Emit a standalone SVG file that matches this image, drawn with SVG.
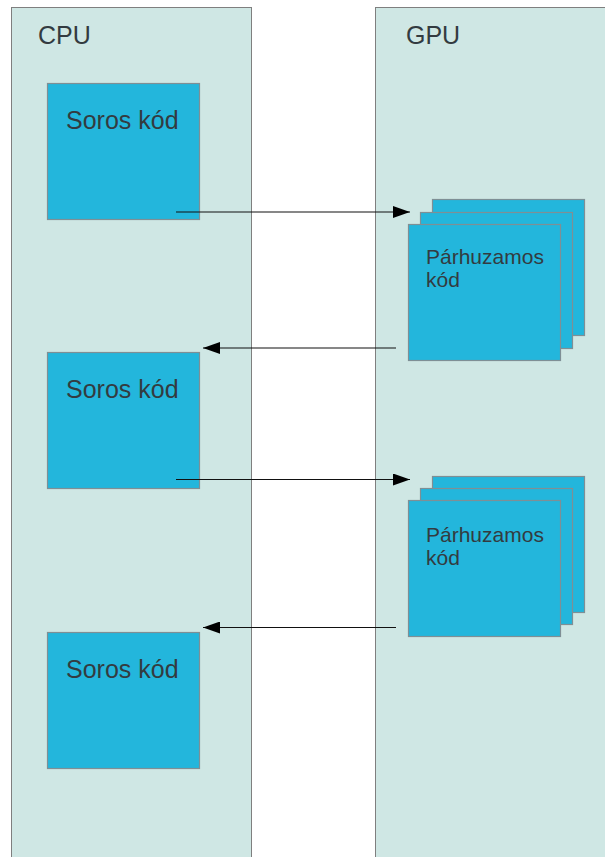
<svg xmlns="http://www.w3.org/2000/svg" width="605" height="857" viewBox="0 0 605 857">
<defs>
<style>
.lane{fill:#cfe7e4;stroke:#7f7f7f;stroke-width:1}
.box{fill:#23b6dc;stroke:#7f8f95;stroke-width:1.2}
.t{font-family:"Liberation Sans",Arial,sans-serif;fill:#333b40}
.big{font-size:25px}
.small{font-size:21px}
.conn{stroke:#111;stroke-width:1.2;fill:none;marker-end:url(#ah)}
</style>
<marker id="ah" viewBox="0 0 17 12" refX="17" refY="6" markerWidth="17" markerHeight="12" markerUnits="userSpaceOnUse" orient="auto">
<path d="M0,0 L17,6 L0,12 z" fill="#000"/>
</marker>
</defs>
<rect width="605" height="857" fill="#fff"/>
<g id="lane-cpu">
<rect class="lane" x="11.5" y="7.5" width="240" height="860"/>
<text class="t big" x="38" y="44">CPU</text>
</g>
<g id="lane-gpu">
<rect class="lane" x="375.5" y="7.5" width="240" height="860"/>
<text class="t big" x="406" y="44">GPU</text>
</g>
<g id="serial-1">
<rect class="box" x="47.5" y="83.5" width="152" height="136"/>
<text class="t big" x="66" y="129">Soros kód</text>
</g>
<g id="serial-2">
<rect class="box" x="47.5" y="352.5" width="152" height="136"/>
<text class="t big" x="66" y="398">Soros kód</text>
</g>
<g id="serial-3">
<rect class="box" x="47.5" y="632.5" width="152" height="136"/>
<text class="t big" x="66" y="678">Soros kód</text>
</g>
<g id="parallel-1">
<rect class="box" x="432.5" y="199.5" width="152" height="136"/>
<rect class="box" x="420.5" y="212.5" width="152" height="136"/>
<rect class="box" x="408.5" y="224.5" width="152" height="136"/>
<text class="t small" x="426" y="264">Párhuzamos</text>
<text class="t small" x="426" y="287">kód</text>
</g>
<g id="parallel-2">
<rect class="box" x="432.5" y="476.5" width="152" height="136"/>
<rect class="box" x="420.5" y="488.5" width="152" height="136"/>
<rect class="box" x="408.5" y="500.5" width="152" height="136"/>
<text class="t small" x="426" y="542">Párhuzamos</text>
<text class="t small" x="426" y="565">kód</text>
</g>
<g id="connectors">
<line class="conn" x1="176" y1="212" x2="410" y2="212"/>
<line class="conn" x1="396" y1="348" x2="203" y2="348"/>
<line class="conn" x1="176" y1="479.5" x2="410" y2="479.5"/>
<line class="conn" x1="396" y1="627.5" x2="203" y2="627.5"/>
</g>
</svg>
